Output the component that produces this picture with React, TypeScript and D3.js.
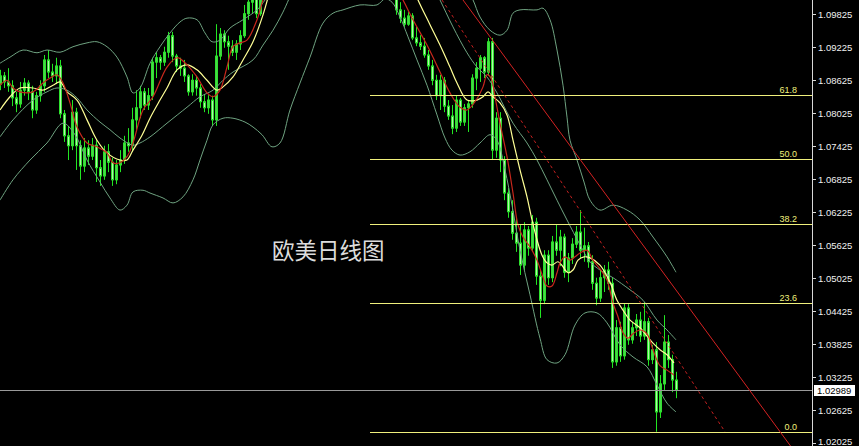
import { useMemo } from 'react';
import * as d3 from 'd3';

const W = 859;
const H = 446;
const PLOT_RIGHT = 812;

// daily candles: [open, high, low, close]
const candles: [number, number, number, number][] = [
  [1.0855, 1.0881, 1.0844, 1.0870],
  [1.0870, 1.0877, 1.0848, 1.0859],
  [1.0859, 1.0884, 1.0841, 1.0852],
  [1.0852, 1.0862, 1.0815, 1.0830],
  [1.0830, 1.0841, 1.0804, 1.0819],
  [1.0819, 1.0859, 1.0812, 1.0844],
  [1.0844, 1.0866, 1.0834, 1.0857],
  [1.0857, 1.0862, 1.0826, 1.0841],
  [1.0841, 1.0852, 1.0793, 1.0808],
  [1.0808, 1.0841, 1.0801, 1.0834],
  [1.0834, 1.0862, 1.0823, 1.0852],
  [1.0852, 1.0908, 1.0841, 1.0899],
  [1.0899, 1.0917, 1.0866, 1.0877],
  [1.0877, 1.0892, 1.0859, 1.0870],
  [1.0870, 1.0903, 1.0855, 1.0888],
  [1.0888, 1.0899, 1.0793, 1.0801],
  [1.0801, 1.0808, 1.0750, 1.0761],
  [1.0761, 1.0779, 1.0717, 1.0743],
  [1.0743, 1.0826, 1.0735, 1.0804],
  [1.0804, 1.0812, 1.0699, 1.0743],
  [1.0743, 1.0753, 1.0681, 1.0706],
  [1.0706, 1.0757, 1.0695, 1.0739],
  [1.0739, 1.0753, 1.0708, 1.0724],
  [1.0724, 1.0757, 1.0717, 1.0744],
  [1.0744, 1.0753, 1.0677, 1.0703],
  [1.0703, 1.0717, 1.0670, 1.0688],
  [1.0688, 1.0743, 1.0681, 1.0732],
  [1.0732, 1.0746, 1.0695, 1.0713],
  [1.0713, 1.0721, 1.0670, 1.0681],
  [1.0681, 1.0717, 1.0673, 1.0708],
  [1.0708, 1.0735, 1.0695, 1.0717],
  [1.0717, 1.0761, 1.0710, 1.0748],
  [1.0748, 1.0775, 1.0732, 1.0743],
  [1.0743, 1.0812, 1.0732, 1.0790],
  [1.0790, 1.0844, 1.0772, 1.0812],
  [1.0812, 1.0852, 1.0793, 1.0841],
  [1.0841, 1.0848, 1.0808, 1.0817],
  [1.0817, 1.0848, 1.0808, 1.0834],
  [1.0834, 1.0903, 1.0826, 1.0895],
  [1.0895, 1.0913, 1.0866, 1.0903],
  [1.0903, 1.0908, 1.0881, 1.0895],
  [1.0895, 1.0923, 1.0888, 1.0913],
  [1.0913, 1.0950, 1.0903, 1.0943],
  [1.0943, 1.0950, 1.0895, 1.0906],
  [1.0906, 1.0910, 1.0877, 1.0888],
  [1.0888, 1.0903, 1.0870, 1.0884],
  [1.0884, 1.0899, 1.0859, 1.0870],
  [1.0870, 1.0873, 1.0834, 1.0841],
  [1.0841, 1.0873, 1.0834, 1.0862],
  [1.0862, 1.0870, 1.0834, 1.0848],
  [1.0848, 1.0855, 1.0812, 1.0823],
  [1.0823, 1.0837, 1.0804, 1.0812],
  [1.0812, 1.0835, 1.0801, 1.0826],
  [1.0826, 1.0834, 1.0779, 1.0790],
  [1.0790, 1.0964, 1.0779, 1.0906],
  [1.0906, 1.0957, 1.0899, 1.0946],
  [1.0946, 1.0953, 1.0921, 1.0932],
  [1.0932, 1.0943, 1.0881, 1.0924],
  [1.0924, 1.0935, 1.0906, 1.0913],
  [1.0913, 1.0935, 1.0899, 1.0928],
  [1.0928, 1.0953, 1.0917, 1.0943],
  [1.0943, 1.0999, 1.0939, 1.0983],
  [1.0983, 1.1017, 1.0972, 1.1004],
  [1.1004, 1.1035, 1.0983, 1.1023],
  [1.1023, 1.1033, 1.0975, 1.0983],
  [1.0983, 1.1044, 1.0979, 1.1026],
  [1.1026, 1.1072, 1.1017, 1.1053],
  // above the visible range
  [1.1053, 1.1070, 1.1020, 1.1040],
  [1.1040, 1.1078, 1.1032, 1.1065],
  [1.1065, 1.1095, 1.1055, 1.1082],
  [1.1082, 1.1098, 1.1060, 1.1075],
  [1.1075, 1.1110, 1.1068, 1.1098],
  [1.1098, 1.1128, 1.1090, 1.1118],
  [1.1118, 1.1142, 1.1105, 1.1130],
  [1.1130, 1.1162, 1.1122, 1.1150],
  [1.1150, 1.1160, 1.1128, 1.1145],
  [1.1145, 1.1176, 1.1135, 1.1165],
  [1.1165, 1.1195, 1.1152, 1.1180],
  [1.1180, 1.1188, 1.1148, 1.1160],
  [1.1160, 1.1198, 1.1152, 1.1185],
  [1.1185, 1.1202, 1.1170, 1.1195],
  [1.1195, 1.1200, 1.1162, 1.1175],
  [1.1175, 1.1182, 1.1138, 1.1150],
  [1.1150, 1.1165, 1.1128, 1.1140],
  [1.1140, 1.1172, 1.1130, 1.1160],
  [1.1160, 1.1168, 1.1110, 1.1120],
  [1.1120, 1.1130, 1.1075, 1.1088],
  [1.1088, 1.1098, 1.1062, 1.1072],
  [1.1072, 1.1098, 1.1065, 1.1085],
  [1.1085, 1.1112, 1.1078, 1.1100],
  [1.1100, 1.1148, 1.1092, 1.1135],
  [1.1135, 1.1172, 1.1128, 1.1160],
  [1.1160, 1.1214, 1.1150, 1.1180],
  [1.1180, 1.1190, 1.1148, 1.1160],
  [1.1160, 1.1168, 1.1122, 1.1135],
  [1.1135, 1.1140, 1.1082, 1.1090],
  [1.1090, 1.1102, 1.1060, 1.1070],
  [1.1070, 1.1082, 1.1035, 1.1045],
  [1.1045, 1.1058, 1.1020, 1.1030],
  // back in view
  [1.1035, 1.1041, 1.0981, 1.0990],
  [1.0990, 1.1004, 1.0966, 1.0975],
  [1.0975, 1.0990, 1.0959, 1.0964],
  [1.0964, 1.0986, 1.0961, 1.0979],
  [1.0979, 1.0984, 1.0935, 1.0939],
  [1.0939, 1.0959, 1.0924, 1.0930],
  [1.0930, 1.0944, 1.0917, 1.0924],
  [1.0924, 1.0939, 1.0903, 1.0908],
  [1.0908, 1.0917, 1.0881, 1.0888],
  [1.0888, 1.0899, 1.0853, 1.0862],
  [1.0862, 1.0872, 1.0826, 1.0834],
  [1.0834, 1.0872, 1.0808, 1.0862],
  [1.0862, 1.0868, 1.0804, 1.0815],
  [1.0815, 1.0826, 1.0790, 1.0797],
  [1.0797, 1.0817, 1.0764, 1.0775],
  [1.0775, 1.0834, 1.0768, 1.0826],
  [1.0826, 1.0830, 1.0779, 1.0786],
  [1.0786, 1.0819, 1.0779, 1.0812],
  [1.0812, 1.0826, 1.0768, 1.0819],
  [1.0819, 1.0873, 1.0812, 1.0866],
  [1.0866, 1.0895, 1.0844, 1.0884],
  [1.0884, 1.0908, 1.0859, 1.0903],
  [1.0903, 1.0906, 1.0866, 1.0877],
  [1.0877, 1.0939, 1.0870, 1.0932],
  [1.0932, 1.0939, 1.0717, 1.0735],
  [1.0735, 1.0804, 1.0721, 1.0793],
  [1.0793, 1.0804, 1.0695, 1.0717],
  [1.0717, 1.0724, 1.0644, 1.0657],
  [1.0657, 1.0666, 1.0612, 1.0623],
  [1.0623, 1.0644, 1.0572, 1.0584],
  [1.0584, 1.0612, 1.0550, 1.0566],
  [1.0566, 1.0599, 1.0508, 1.0526],
  [1.0526, 1.0604, 1.0517, 1.0590],
  [1.0590, 1.0597, 1.0543, 1.0557],
  [1.0557, 1.0617, 1.0550, 1.0604],
  [1.0604, 1.0612, 1.0490, 1.0506],
  [1.0506, 1.0517, 1.0430, 1.0462],
  [1.0462, 1.0553, 1.0455, 1.0544],
  [1.0544, 1.0553, 1.0490, 1.0503],
  [1.0503, 1.0579, 1.0495, 1.0568],
  [1.0568, 1.0599, 1.0543, 1.0553],
  [1.0553, 1.0590, 1.0524, 1.0577],
  [1.0577, 1.0583, 1.0503, 1.0513],
  [1.0513, 1.0548, 1.0495, 1.0539],
  [1.0539, 1.0575, 1.0528, 1.0564],
  [1.0564, 1.0597, 1.0557, 1.0586],
  [1.0586, 1.0626, 1.0539, 1.0553],
  [1.0553, 1.0594, 1.0532, 1.0561],
  [1.0561, 1.0568, 1.0521, 1.0532],
  [1.0532, 1.0544, 1.0481, 1.0493],
  [1.0493, 1.0503, 1.0453, 1.0466],
  [1.0466, 1.0517, 1.0459, 1.0503],
  [1.0503, 1.0526, 1.0477, 1.0517],
  [1.0517, 1.0532, 1.0481, 1.0493],
  [1.0493, 1.0503, 1.0339, 1.0350],
  [1.0350, 1.0426, 1.0343, 1.0412],
  [1.0412, 1.0423, 1.0350, 1.0361],
  [1.0361, 1.0457, 1.0354, 1.0448],
  [1.0448, 1.0455, 1.0381, 1.0390],
  [1.0390, 1.0423, 1.0383, 1.0412],
  [1.0412, 1.0437, 1.0397, 1.0426],
  [1.0426, 1.0441, 1.0386, 1.0397],
  [1.0397, 1.0459, 1.0390, 1.0423],
  [1.0423, 1.0430, 1.0343, 1.0354],
  [1.0354, 1.0381, 1.0346, 1.0372],
  [1.0372, 1.0386, 1.0223, 1.0259],
  [1.0259, 1.0326, 1.0248, 1.0310],
  [1.0310, 1.0435, 1.0299, 1.0386],
  [1.0386, 1.0399, 1.0339, 1.0354],
  [1.0354, 1.0363, 1.0295, 1.0317],
  [1.0317, 1.0332, 1.0284, 1.02989],
];

const priceTicks = [
  1.09825, 1.09225, 1.08625, 1.08025, 1.07425, 1.06825, 1.06225,
  1.05625, 1.05025, 1.04425, 1.03825, 1.03225, 1.02625, 1.02025,
];
const lastPrice = 1.02989;

// fibonacci retracement
const fibHigh = 1.1214;
const fibLow = 1.0223;
const fibStartIndex = 92.5;
const fibRatios = [0.618, 0.5, 0.382, 0.236, 0];
const fibLabels = ['61.8', '50.0', '38.2', '23.6', '0.0'];

// indicator lines: [bar index, price]
const upperBandLeft: [number, number][] = [
  [0, 1.0893], [2.5, 1.0904], [5.75, 1.0917], [9.25, 1.0912], [11.75, 1.0917],
  [15, 1.0913], [18.25, 1.0923], [21.75, 1.093], [24.25, 1.0932], [26.75, 1.0923],
  [29.25, 1.0904], [31.75, 1.0868], [33.25, 1.0839], [35, 1.0848], [37.5, 1.0893],
  [40, 1.0923], [42.5, 1.0948], [45, 1.0968], [46.75, 1.0975], [49.25, 1.0972],
  [51.25, 1.0948], [53, 1.0932], [55, 1.0935], [57.5, 1.0957], [60.75, 1.0972],
  [64.25, 1.099], [66.25, 1.1008], [68, 1.103],
];
const upperBandRight: [number, number][] = [
  [116.5, 1.103], [118.25, 1.1008], [120, 1.0977], [122.5, 1.0953], [125, 1.0944],
  [126.75, 1.0953], [128.25, 1.0984], [130, 1.099], [134.25, 1.099], [135.75, 1.0993],
  [137.5, 1.0972], [139.25, 1.0917], [140.75, 1.0853], [141.75, 1.0795], [142.5, 1.0753],
  [144.25, 1.0717], [146, 1.0677], [147.5, 1.0644], [150, 1.0626], [153.25, 1.0635],
  [156.75, 1.0626], [160, 1.0608], [163.25, 1.0577], [166.75, 1.0541], [169, 1.0513],
];
const midBandLeft: [number, number][] = [
  [0, 1.0759], [3.25, 1.079], [8.25, 1.0826], [11.75, 1.0841], [14.25, 1.0848],
  [16.75, 1.0844], [19.25, 1.083], [21.75, 1.0808], [25, 1.0786], [27.5, 1.0772],
  [30, 1.0757], [33.25, 1.0744], [35, 1.0748], [37.5, 1.0759], [41.75, 1.0784],
  [46.75, 1.0813], [50, 1.0832], [53.25, 1.0844], [55.75, 1.0862], [58.25, 1.0877],
  [63.25, 1.0899], [65.75, 1.0926], [68.25, 1.0953], [70.75, 1.0986], [73, 1.1023],
];
const midBandRight: [number, number][] = [
  [108.5, 1.103], [110, 1.1008], [113.25, 1.0959], [116.75, 1.0912], [119.25, 1.0886],
  [121.75, 1.0868], [124.25, 1.0839], [128.25, 1.0784], [131.75, 1.0748], [134.25, 1.0717],
  [136.75, 1.0681], [139.25, 1.0644], [141.75, 1.0608], [145, 1.0563], [147.5, 1.0532],
  [150, 1.0517], [153.25, 1.0503], [157.5, 1.0481], [160.75, 1.0462], [164.25, 1.0426],
  [166.75, 1.0408], [169, 1.039],
];
const lowerBand: [number, number][] = [
  [0, 1.0644], [3.25, 1.0681], [7.5, 1.0717], [11.75, 1.0748], [15.75, 1.0784],
  [18.75, 1.0763], [21.75, 1.0717], [25, 1.0677], [27.5, 1.0648], [30, 1.0626],
  [31.75, 1.0635], [33.25, 1.0659], [35.75, 1.0662], [37.5, 1.0657], [40.75, 1.0648],
  [43.25, 1.0639], [45.75, 1.065], [48.25, 1.0681], [50, 1.0717], [51.75, 1.0753],
  [53.25, 1.0781], [55.75, 1.0793], [58.25, 1.0793], [61.25, 1.0786], [63.25, 1.0777],
  [65.5, 1.0763], [68, 1.0741], [70, 1.0748], [72.5, 1.0808], [75, 1.0857],
  [77.5, 1.0904], [80.75, 1.0966], [83.25, 1.0984], [85.75, 1.099], [90, 1.0999],
  [94.25, 1.0999], [96.25, 1.101], [98, 1.1004], [100, 1.0977], [102, 1.0941],
  [104.25, 1.0899], [106.75, 1.0853], [109.25, 1.0799], [111.25, 1.0757], [113, 1.0735],
  [115, 1.0726], [117.5, 1.0732], [120, 1.0748], [122.5, 1.0763], [124.25, 1.0753],
  [126.25, 1.0699], [128, 1.0635], [130, 1.0553], [132.5, 1.0472], [135, 1.0393],
  [136.75, 1.0354], [139.25, 1.0348], [141.25, 1.0363], [143.75, 1.0417], [146.25, 1.0439],
  [149.25, 1.0439], [151.75, 1.0421], [155, 1.0381], [158.25, 1.0359], [161.75, 1.0341],
  [164.25, 1.0308], [166.75, 1.0275], [169, 1.0259],
];
const fastMaLeft: [number, number][] = [
  [0, 1.0853], [1.75, 1.0862], [3.25, 1.0848], [5, 1.0841], [8.25, 1.0841],
  [10.75, 1.0857], [12.5, 1.0866], [14.25, 1.0872], [15.75, 1.0857], [17.5, 1.0821],
  [19.25, 1.0777], [21.75, 1.0748], [24.25, 1.0741], [26.75, 1.073], [28.25, 1.0712],
  [30, 1.0712], [31.75, 1.0723], [33.25, 1.0748], [35.75, 1.0808], [38.25, 1.0832],
  [41.75, 1.0886], [44.25, 1.0903], [46.75, 1.089], [49.25, 1.0868], [51.75, 1.0839],
  [53.25, 1.0832], [55, 1.0844], [56.75, 1.0886], [58.25, 1.0923], [60, 1.093],
  [61.75, 1.0935], [64.25, 1.0972], [65.75, 1.1008], [67, 1.103],
];
const fastMaRight: [number, number][] = [
  [99, 1.103], [100.75, 1.1008], [103.25, 1.0972], [106.75, 1.0926], [110, 1.0877],
  [112.5, 1.0839], [115, 1.0813], [116.75, 1.0808], [118.75, 1.0823], [120.75, 1.085],
  [121.75, 1.0872], [122.75, 1.0866], [123.75, 1.0832], [125, 1.0784], [126.75, 1.0723],
  [128.25, 1.0657], [129.5, 1.0599], [130.75, 1.0577], [132.5, 1.0559], [134.25, 1.0535],
  [135.75, 1.0504], [136.75, 1.0488], [138, 1.0488], [139.25, 1.0512], [140, 1.053],
  [141.25, 1.0541], [142.5, 1.0535], [143.75, 1.0541], [145, 1.0548], [146.75, 1.0553],
  [148.25, 1.0535], [150, 1.0519], [151.75, 1.0499], [153.25, 1.0457], [154.5, 1.0432],
  [155.75, 1.0403], [157, 1.0393], [158.25, 1.0401], [160, 1.0408], [161.75, 1.0401],
  [163.25, 1.0372], [165, 1.0343], [166.75, 1.0335], [168.5, 1.0326],
];
const slowMaLeft: [number, number][] = [
  [0, 1.0808], [2.5, 1.0832], [5, 1.0848], [8.25, 1.0848], [10.75, 1.0844],
  [13.25, 1.0853], [15, 1.0859], [16.75, 1.0841], [19.25, 1.0826], [21.75, 1.079],
  [24.25, 1.0753], [26.75, 1.073], [30, 1.0717], [31.75, 1.0717], [33.25, 1.0735],
  [35.5, 1.0762], [37.5, 1.0793], [40, 1.0826], [41.75, 1.0848], [44.25, 1.0881],
  [46.75, 1.089], [49.25, 1.0881], [51.75, 1.0862], [54.25, 1.0844], [55.75, 1.085],
  [58.25, 1.0868], [60.75, 1.0899], [63.25, 1.0932], [65.75, 1.0981], [67.5, 1.1026],
];
const slowMaRight: [number, number][] = [
  [103.25, 1.103], [104.5, 1.1008], [107.5, 1.0963], [110, 1.0926], [112.5, 1.0886],
  [114.25, 1.0857], [116.75, 1.0826], [119.25, 1.0826], [120.75, 1.0832], [122, 1.0841],
  [123.25, 1.0832], [125, 1.0821], [126.75, 1.0799], [128.25, 1.0753], [130, 1.0699],
  [131.75, 1.065], [133, 1.0608], [134.25, 1.0572], [135.5, 1.0544], [136.75, 1.053],
  [138, 1.0526], [139.5, 1.0532], [140.75, 1.0523], [142, 1.0512], [143.25, 1.0517],
  [144.5, 1.0535], [146, 1.0541], [147.5, 1.0539], [150, 1.0526], [152.5, 1.0495],
  [154.25, 1.0462], [155.75, 1.0444], [157.5, 1.0426], [160, 1.0412], [161.75, 1.0397],
  [163.25, 1.0384], [165, 1.0372], [166.75, 1.0363], [168.5, 1.0348],
];

// trend lines: two anchors each, [bar index, price]
const trendSolid: [number, number][] = [[115.75, 1.1008], [198.75, 1.0186]];
const trendDashed: [number, number][] = [[110.5, 1.1008], [181.25, 1.0223]];

export default function App() {
  const x = useMemo(() => d3.scaleLinear().domain([0, 169]).range([0, 676]), []);
  const y = useMemo(() => d3.scaleLinear().domain([1.02025, 1.09825]).range([443, 14]), []);

  const curve = d3.line<[number, number]>()
    .x(d => x(d[0]))
    .y(d => y(d[1]))
    .curve(d3.curveCatmullRom.alpha(0.5));
  const straight = d3.line<[number, number]>().x(d => x(d[0])).y(d => y(d[1]));

  const bandColor = '#6fa381';
  const fibColor = '#f0f07c';
  const axisFont = '"Liberation Sans", Arial, sans-serif';

  return (
    <div style={{ position: 'fixed', left: 0, top: 0, width: W, height: H, background: '#000' }}>
      <svg width={W} height={H} style={{ display: 'block', background: '#000' }}>
        <defs>
          <clipPath id="plot">
            <rect x={0} y={0} width={PLOT_RIGHT} height={H} />
          </clipPath>
        </defs>

        <g clipPath="url(#plot)">
          {/* candles */}
          {candles.map((c, i) => {
            const [o, h, l, cl] = c;
            const cx = Math.round(x(i)) + 0.5;
            const bull = cl >= o;
            const top = y(Math.max(o, cl));
            const bot = y(Math.min(o, cl));
            return (
              <g key={i}>
                <line x1={cx} x2={cx} y1={y(h)} y2={y(l)} stroke="#22e622" strokeWidth={1} />
                <rect
                  x={cx - 1}
                  y={top}
                  width={2}
                  height={Math.max(bot - top, 1)}
                  fill={bull ? '#49d849' : '#b4f8aa'}
                  stroke="#2ee02e"
                  strokeWidth={1}
                />
              </g>
            );
          })}

          {/* bollinger bands */}
          {[upperBandLeft, upperBandRight, midBandLeft, midBandRight, lowerBand].map((d, k) => (
            <path key={k} d={curve(d) || undefined} fill="none" stroke={bandColor} strokeWidth={1} />
          ))}

          {/* moving averages */}
          {[slowMaLeft, slowMaRight].map((d, k) => (
            <path key={k} d={curve(d) || undefined} fill="none" stroke="#ffff96" strokeWidth={1.2} />
          ))}
          {[fastMaLeft, fastMaRight].map((d, k) => (
            <path key={k} d={curve(d) || undefined} fill="none" stroke="#c8281c" strokeWidth={1.2} />
          ))}

          {/* current price */}
          <line x1={0} x2={PLOT_RIGHT} y1={Math.round(y(lastPrice)) + 0.5} y2={Math.round(y(lastPrice)) + 0.5} stroke="#9a9a9a" />

          {/* fibonacci levels */}
          {fibRatios.map((r, k) => {
            const p = fibLow + (fibHigh - fibLow) * r;
            const yy = Math.round(y(p)) + 0.5;
            return (
              <g key={k}>
                <line x1={x(fibStartIndex)} x2={PLOT_RIGHT} y1={yy} y2={yy} stroke={fibColor} strokeWidth={1} />
                <text x={797} y={yy - 3} textAnchor="end" fontFamily={axisFont} fontSize={9} fill={fibColor}>
                  {fibLabels[k]}
                </text>
              </g>
            );
          })}

          {/* trend lines */}
          <path d={straight(trendSolid) || undefined} stroke="#d42222" strokeWidth={1} fill="none" />
          <path d={straight(trendDashed) || undefined} stroke="#c42020" strokeWidth={1} strokeDasharray="3,3" fill="none" />
        </g>

        <text x={272} y={259} fontFamily='"Noto Sans CJK SC", sans-serif' fontSize={22.5} fill="#dcdcdc">
          欧美日线图
        </text>

        {/* price axis */}
        <line x1={PLOT_RIGHT + 0.5} x2={PLOT_RIGHT + 0.5} y1={0} y2={H} stroke="#d8d8d8" />
        {priceTicks.map(t => {
          const yy = Math.round(y(t)) + 0.5;
          return (
            <g key={t}>
              <line x1={PLOT_RIGHT} x2={PLOT_RIGHT + 4} y1={yy} y2={yy} stroke="#d8d8d8" />
              <text x={818} y={Math.min(yy + 3.5, 445)} fontFamily={axisFont} fontSize={9.5} fill="#f0f0f0">
                {t.toFixed(5)}
              </text>
            </g>
          );
        })}
        <rect x={814} y={Math.round(y(lastPrice)) - 5} width={41} height={11} fill="#ffffff" />
        <text x={817} y={Math.round(y(lastPrice)) + 4} fontFamily={axisFont} fontSize={9.5} fill="#000">
          {lastPrice.toFixed(5)}
        </text>
      </svg>
    </div>
  );
}
